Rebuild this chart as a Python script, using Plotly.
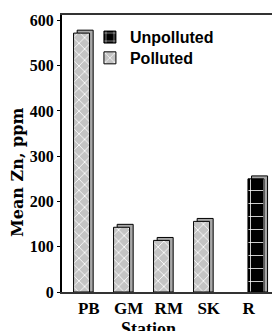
import plotly.graph_objects as go

stations = ["PB", "GM", "RM", "SK", "R"]
polluted = [572, 143, 114, 156, None]
unpolluted = [None, None, None, None, 250]
y_ticks = [0, 100, 200, 300, 400, 500, 600]

depth = 6.5  # visual 3D depth in data units (style)

def shadow(vals):
    return [None if v is None else v + depth for v in vals]

serif = "Liberation Serif, Times New Roman, serif"
sans = "Liberation Sans, Arial, sans-serif"

fig = go.Figure()
# shadows (3D side faces)
fig.add_trace(go.Bar(x=stations, y=shadow(polluted), offset=-0.29, width=0.4,
                     marker=dict(color="#a8a8a8", line=dict(color="black", width=1)),
                     showlegend=False, hoverinfo="skip"))
fig.add_trace(go.Bar(x=stations, y=shadow(unpolluted), offset=0.07, width=0.4,
                     marker=dict(color="#a8a8a8", line=dict(color="black", width=1)),
                     showlegend=False, hoverinfo="skip"))
# front faces
fig.add_trace(go.Bar(x=stations, y=unpolluted, name="Unpolluted", offset=-0.02, width=0.4,
                     legend="legend",
                     marker=dict(color="black", line=dict(color="black", width=1),
                                 pattern=dict(shape="+", fgcolor="white", bgcolor="black",
                                              size=13, solidity=0.12, fillmode="replace"))))
fig.add_trace(go.Bar(x=stations, y=polluted, name="Polluted", offset=-0.38, width=0.4,
                     legend="legend2",
                     marker=dict(color="#c4c4c4", line=dict(color="black", width=1),
                                 pattern=dict(shape="x", fgcolor="white", bgcolor="#c4c4c4",
                                              size=8, solidity=0.2, fillmode="replace"))))

legfont = dict(family=sans, size=16, color="black", weight="bold")
fig.update_layout(
    width=272, height=331,
    margin=dict(l=62, r=0, t=15, b=39),
    paper_bgcolor="white", plot_bgcolor="white",
    barmode="overlay",
    showlegend=True,
    legend=dict(x=0.133, y=0.92, xanchor="left", yanchor="middle",
                bgcolor="rgba(0,0,0,0)", font=legfont),
    legend2=dict(x=0.133, y=0.845, xanchor="left", yanchor="middle",
                 bgcolor="rgba(0,0,0,0)", font=legfont),
    xaxis=dict(range=[-0.669, 4.581], showline=True, linecolor="#333", linewidth=2,
               mirror=True, ticks="", showgrid=False, zeroline=False,
               tickfont=dict(family=serif, size=17, color="black", weight="bold")),
    yaxis=dict(range=[0, 612], tickvals=y_ticks, showline=True, linecolor="black",
               linewidth=2, ticks="outside", ticklen=3, tickwidth=1, tickcolor="black",
               showgrid=False, zeroline=False,
               tickfont=dict(family=serif, size=16, color="black", weight="bold")),
    annotations=[
        dict(text="Mean Zn, ppm", xref="paper", yref="paper", x=-0.2095, y=0.43,
             xanchor="center", yanchor="middle", textangle=-90, showarrow=False,
             font=dict(family="DejaVu Serif", size=16, color="black", weight="bold")),
        dict(text="Station", xref="paper", yref="paper", x=0.41, y=-0.092,
             xanchor="center", yanchor="top", showarrow=False,
             font=dict(family=serif, size=18, color="black", weight="bold")),
    ],
)

fig.write_html("out.html", config={"displayModeBar": False})
with open("out.html", encoding="utf-8") as f:
    html = f.read()
html = html.replace("<body>", '<body style="margin:0;overflow:hidden">', 1)
with open("out.html", "w", encoding="utf-8") as f:
    f.write(html)
